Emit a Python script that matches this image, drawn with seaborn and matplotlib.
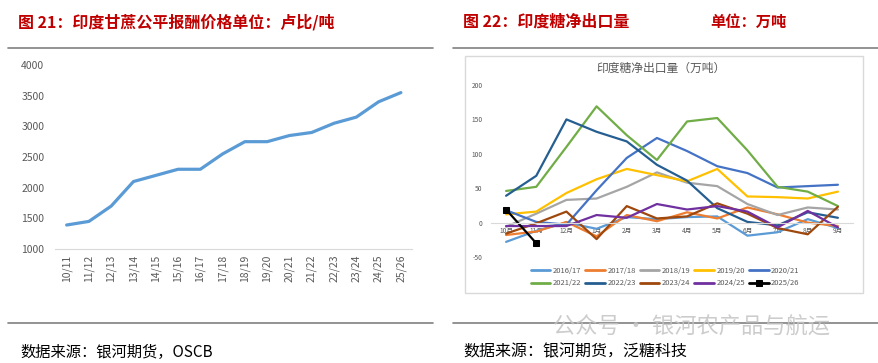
import numpy as np
import pandas as pd
import seaborn as sns
import matplotlib.pyplot as plt
from matplotlib.patches import Rectangle
from matplotlib.lines import Line2D

sns.set_style("white")
plt.rcParams['font.family'] = ['Noto Sans CJK SC', 'DejaVu Sans']
plt.rcParams['axes.unicode_minus'] = False

# ---- 图21 数据：印度甘蔗公平报酬价格 (卢比/吨)
frp_seasons = ['10/11', '11/12', '12/13', '13/14', '14/15', '15/16', '16/17', '17/18',
               '18/19', '19/20', '20/21', '21/22', '22/23', '23/24', '24/25', '25/26']
frp_price = [1391, 1450, 1700, 2100, 2200, 2300, 2300, 2550,
             2750, 2750, 2850, 2900, 3050, 3150, 3400, 3550]

# ---- 图22 数据：印度糖净出口量 (万吨)
months = ['10月', '11月', '12月', '1月', '2月', '3月', '4月', '5月', '6月', '7月', '8月', '9月']
exp_1617 = [-28, -12, 0, -9, 8, 5, 8, 9, -19, -14, 5, -8]
exp_1718 = [-18, -13, 1, -20, 11, 2, 15, 6, 22, 12, 0, -5]
exp_1819 = [-6, 13, 33, 35, 52, 73, 58, 53, 27, 11, 22, 19]
exp_1920 = [12, 16, 43, 63, 78, 69, 60, 78, 38, 37, 35, 45]
exp_2021 = [18, 1, -3, 47, 94, 123, 104, 82, 72, 51, 53, 55]
exp_2122 = [46, 52, 110, 169, 127, 91, 147, 152, 105, 52, 45, 24]
exp_2223 = [39, 68, 150, 132, 118, 84, 61, 21, 1, -4, 15, 7]
exp_2324 = [-16, -1, 16, -24, 24, 6, 9, 28, 13, -8, -17, 23]
exp_2425 = [-5, -5, -5, 11, 7, 27, 19, 24, 16, -7, 17, -7]
exp_2526 = [19, -30]

season_names = ['2016/17', '2017/18', '2018/19', '2019/20', '2020/21',
                '2021/22', '2022/23', '2023/24', '2024/25']
season_vals = [exp_1617, exp_1718, exp_1819, exp_1920, exp_2021,
               exp_2122, exp_2223, exp_2324, exp_2425]
colors = ['#5B9BD5', '#ED7D31', '#A5A5A5', '#FFC000', '#4472C4',
          '#70AD47', '#255E91', '#9E480E', '#7030A0']

W, H = 879, 363
fig = plt.figure(figsize=(W / 100, H / 100), dpi=100)


def box(x0, y0, x1, y1):
    return [x0 / W, 1 - y1 / H, (x1 - x0) / W, (y1 - y0) / H]


def ftext(x, y, s, **kw):
    fig.text(x / W, 1 - y / H, s, va='center', **kw)


def hline(x0, x1, y):
    fig.add_artist(Line2D([x0 / W, x1 / W], [1 - y / H, 1 - y / H], color='#808080', lw=1.2))


red = '#C00000'
grey_txt = '#595959'

# 标题、分隔线、来源
ftext(18, 22, '图 21：印度甘蔗公平报酬价格单位：卢比/吨', color=red, fontsize=11.5, fontweight='bold')
ftext(463, 22, '图 22：印度糖净出口量', color=red, fontsize=11.5, fontweight='bold')
ftext(710, 22, '单位：万吨', color=red, fontsize=11, fontweight='bold')
hline(8, 433, 48)
hline(453, 879, 48)
hline(8, 433, 323)
hline(453, 879, 323)
ftext(20, 352, '数据来源：银河期货，OSCB', color='black', fontsize=11)
ftext(463, 352, '数据来源：银河期货，泛糖科技', color='black', fontsize=11.5)
ftext(553, 327, '公众号 · 银河农产品与航运', color='#C4C4C4', fontsize=16, alpha=0.85)

# ---- 左图
ax1 = fig.add_axes(box(55.5, 65, 412, 249))
df1 = pd.DataFrame({'idx': range(len(frp_seasons)), 'price': frp_price})
sns.lineplot(data=df1, x='idx', y='price', ax=ax1, color='#5B9BD5', lw=2.3)
ax1.set_xlim(-0.5, len(frp_seasons) - 0.5)
ax1.set_ylim(1000, 4000)
ax1.set_yticks(range(1000, 4001, 500))
ax1.set_xticks(range(len(frp_seasons)))
ax1.set_xticklabels(frp_seasons, rotation=90)
ax1.set_xlabel('')
ax1.set_ylabel('')
for s in ['top', 'right', 'left']:
    ax1.spines[s].set_visible(False)
ax1.spines['bottom'].set_color('#D9D9D9')
ax1.tick_params(length=0, labelsize=7.5, colors=grey_txt, pad=4)
ax1.tick_params(axis='y', pad=8)

# ---- 右图
fig.add_artist(Rectangle((465 / W, 1 - 293 / H), 398 / W, 237 / H, transform=fig.transFigure,
                         fill=False, edgecolor='#D9D9D9', lw=1))
ftext(661, 68, '印度糖净出口量（万吨）', color=grey_txt, fontsize=8.5, ha='center')

ax2 = fig.add_axes(box(491, 85, 853, 257))
rows = []
for name, vals in zip(season_names, season_vals):
    for i, v in enumerate(vals):
        rows.append({'season': name, 'idx': i, 'val': v})
df2 = pd.DataFrame(rows)
sns.lineplot(data=df2, x='idx', y='val', hue='season', palette=colors, ax=ax2, lw=1.6)
df3 = pd.DataFrame({'idx': range(len(exp_2526)), 'val': exp_2526})
sns.lineplot(data=df3, x='idx', y='val', ax=ax2, color='black', lw=1.6, marker='s',
             markersize=4, markeredgecolor='black', label='2025/26')
ax2.set_xlim(-0.5, len(months) - 0.5)
ax2.set_ylim(-50, 200)
ax2.set_yticks(range(-50, 201, 50))
ax2.set_xticks(range(len(months)))
ax2.set_xticklabels(months)
ax2.set_xlabel('')
ax2.set_ylabel('')
for s in ['top', 'right', 'left']:
    ax2.spines[s].set_visible(False)
ax2.spines['bottom'].set_position(('data', 0))
ax2.spines['bottom'].set_color('#D9D9D9')
ax2.tick_params(length=0, labelsize=4.8, colors=grey_txt)
ax2.tick_params(axis='x', pad=3)
ax2.tick_params(axis='y', pad=6)

handles, labels = ax2.get_legend_handles_labels()
ax2.get_legend().remove()
order = [0, 5, 1, 6, 2, 7, 3, 8, 4, 9]
leg = fig.legend([handles[i] for i in order], [labels[i] for i in order], loc='center',
                 bbox_to_anchor=(665 / W, 1 - 277 / H), ncol=5, frameon=False, fontsize=5.5,
                 handlelength=2.6, columnspacing=0.5, handletextpad=0.3, labelspacing=0.6)
for line in leg.get_lines():
    line.set_linewidth(2)
for t in leg.get_texts():
    t.set_color(grey_txt)

fig.savefig('out.png', dpi=100)
